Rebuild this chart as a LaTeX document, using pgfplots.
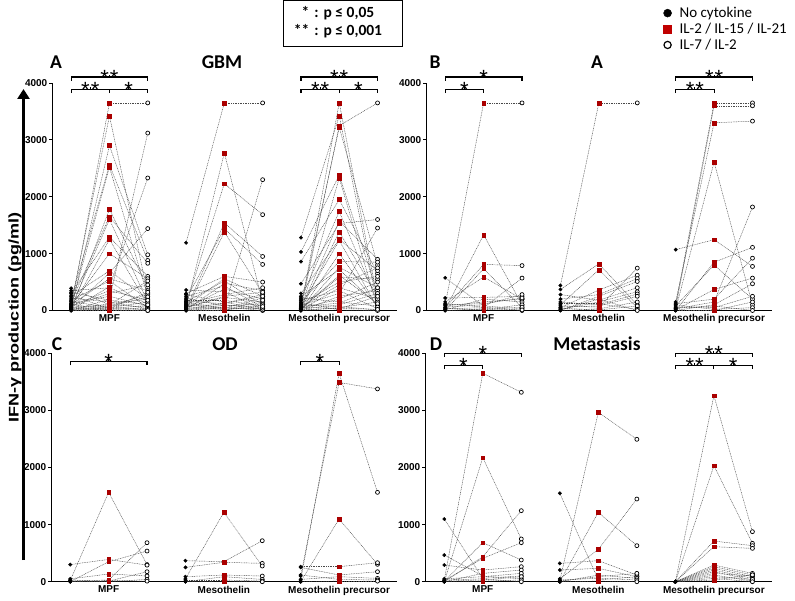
\documentclass[border=0pt]{standalone}
\usepackage{pgfplots}
\pgfplotsset{compat=1.18}
\usepackage{pgfplotstable}
\usetikzlibrary{arrows.meta}
\usepackage{fontspec}
\setmainfont{Liberation Sans}
\newfontfamily\carl{Carlito}

\definecolor{ilred}{HTML}{C00000}
\definecolor{ptred}{HTML}{AA0000}
\definecolor{linkgray}{HTML}{484848}

% columns: a = no cytokine, b = IL-2/IL-15/IL-21, c = IL-7/IL-2 (pg/ml), one row per patient
% --- GBM ---
\pgfplotstableread{
a b c
50 3650 3650
120 3420 300
30 2900 980
200 2560 880
80 2520 250
10 1780 400
150 1650 830
60 1600 150
300 1290 600
20 1250 100
90 1000 560
250 700 200
40 660 1440
100 560 350
180 520 50
10 420 2330
350 400 120
70 300 450
130 250 80
0 200 3120
220 150 30
20 120 200
390 100 60
50 80 280
0 60 10
160 50 150
30 40 320
270 30 90
5 20 40
110 10 0
60 100 520
0 30 20
320 180 100
15 70 240
0 0 0
80 350 180
}\tAmpf
\pgfplotstableread{
a b c
1190 3650 3650
50 2770 150
100 2230 1685
20 1540 950
200 1440 810
0 1380 300
300 600 500
80 560 250
150 520 100
10 480 350
250 430 60
40 380 200
360 330 20
120 280 400
0 50 2300
60 230 150
180 180 80
30 130 280
90 100 30
220 80 120
15 60 0
140 40 220
70 20 50
0 10 100
280 150 10
50 250 320
110 30 40
0 0 180
20 90 70
160 120 250
}\tAmes
\pgfplotstableread{
a b c
50 3650 200
1280 3420 100
20 3250 3650
100 3220 800
1030 2380 300
0 2330 50
860 1950 650
200 1740 150
40 1570 900
470 1530 1600
10 1380 250
300 1250 700
80 1230 50
150 860 850
0 760 400
250 720 100
30 590 550
120 500 600
60 450 750
10 400 200
180 350 30
90 300 1450
0 250 350
40 200 500
220 150 80
20 100 300
100 70 10
0 50 150
60 30 250
140 10 0
30 620 120
0 1000 60
70 130 400
10 40 20
}\tAprec
% --- A ---
\pgfplotstableread{
a b c
100 3650 3650
20 1330 100
50 810 790
0 735 50
150 590 200
575 80 30
220 230 250
10 200 150
60 100 280
30 50 570
0 20 100
120 60 0
80 150 200
40 10 60
0 30 10
100 120 220
}\tBmpf
\pgfplotstableread{
a b c
440 3650 3650
370 820 100
100 715 50
50 360 620
200 280 560
0 250 510
280 180 400
20 150 330
150 100 290
80 60 745
0 30 150
40 10 80
120 120 20
10 200 0
60 80 250
}\tBmes
\pgfplotstableread{
a b c
100 3650 3650
50 3600 3600
150 3300 3330
20 2610 100
1070 1245 775
0 850 1110
80 800 200
10 370 570
120 200 920
30 150 1820
0 100 470
60 50 250
100 20 50
0 0 150
40 80 0
}\tBprec
% --- OD ---
\pgfplotstableread{
a b c
20 1565 300
300 390 290
0 350 537
50 135 100
10 30 683
0 10 175
30 0 40
0 20 10
}\tCmpf
\pgfplotstableread{
a b c
368 350 718
251 340 321
50 1215 275
88 117 99
0 88 40
30 30 10
0 10 0
}\tCmes
\pgfplotstableread{
a b c
30 3650 1565
100 3490 3376
0 1098 304
263 263 333
251 117 175
40 88 58
117 40 30
0 10 10
}\tCprec
% --- Metastasis ---
\pgfplotstableread{
a b c
30 3650 3317
0 2172 748
10 683 380
0 438 1244
20 409 683
1098 60 100
467 100 50
292 204 263
0 146 204
50 88 146
10 30 88
0 10 30
30 50 0
}\tDmpf
\pgfplotstableread{
a b c
20 2967 2494
1548 30 88
0 1215 631
50 566 1448
321 368 117
204 234 88
0 117 58
30 60 30
10 88 146
0 10 0
}\tDmes
\pgfplotstableread{
a b c
0 3259 876
0 2032 672
0 712 631
0 613 584
0 292 146
0 263 117
0 234 88
0 204 58
0 175 30
0 146 100
0 117 10
0 88 40
0 58 0
0 30 120
}\tDprec

\pgfplotsset{
  link/.style={linkgray, line width=0.45pt, dash pattern=on 0.9pt off 0.8pt},
  nocyt/.style={only marks, mark=*, mark size=1.7pt, black},
  il2/.style={only marks, mark=square*, mark size=1.9pt, ptred, mark options={fill=ptred}},
  il7/.style={only marks, mark=*, mark size=2pt, black, mark options={fill=white, line width=0.7pt}},
  panel/.style={
    scale only axis, anchor=south west,
    xmin=-0.5, xmax=8.5, ymin=0, ymax=4000,
    axis x line=bottom, axis y line=left,
    axis line style={-, line width=0.8pt},
    xtick={1,4,7}, xticklabels={MPF,Mesothelin,Mesothelin precursor},
    x tick style={draw=none},
    ytick={0,1000,2000,3000,4000},
    y tick style={line width=0.8pt, black},
    major tick length=3pt, tick align=outside,
    tick label style={font=\bfseries\fontsize{10}{10}\selectfont},
    /pgf/number format/assume math mode=true,
    /pgf/number format/1000 sep={},
    scaled y ticks=false, clip=false,
    xticklabel style={inner sep=1pt},
    yticklabel style={inner sep=1.5pt},
  },
}

% one group of three columns starting at x = #2
\newcommand{\grp}[2]{%
  \addplot[link, forget plot, quiver={u=1, v=\thisrow{b}-\thisrow{a}}] table[x expr=#2, y=a] {#1};
  \addplot[link, forget plot, quiver={u=1, v=\thisrow{c}-\thisrow{b}}] table[x expr=#2+1, y=b] {#1};
  \addplot[nocyt, forget plot] table[x expr=#2, y=a] {#1};
  \addplot[il2, forget plot] table[x expr=#2+1, y=b] {#1};
  \addplot[il7, forget plot] table[x expr=#2+2, y=c] {#1};
}
% significance bracket: from, to, label x, height, label
\newcommand{\brk}[5]{%
  \draw[line width=1.1pt] ([yshift=-3.5pt]axis cs:#1,#4) -- (axis cs:#1,#4) -- (axis cs:#2,#4) -- ([yshift=-3.5pt]axis cs:#2,#4);
  \draw[line width=1.1pt] (axis cs:#3,#4) -- ([yshift=2.5pt]axis cs:#3,#4);
  \node[anchor=base, inner sep=0pt, font=\fontsize{22}{22}\selectfont] at ([yshift=-8pt]axis cs:#3,#4) {#5};
}

\begin{document}
\begin{tikzpicture}[x=1pt, y=1pt]
\path[use as bounding box] (0,0) rectangle (795,600);

\begin{axis}[panel, at={(52pt,289.5pt)}, width=344.7pt, height=227.5pt]
\grp{\tAmpf}{0}
\grp{\tAmes}{3}
\grp{\tAprec}{6}
\brk{0}{2}{1}{4105}{*\hspace{1pt}*}
\brk{0}{1}{0.5}{3885}{*\hspace{1pt}*}
\brk{1}{2}{1.5}{3885}{*}
\brk{6}{8}{7}{4105}{*\hspace{1pt}*}
\brk{6}{7}{6.5}{3885}{*\hspace{1pt}*}
\brk{7}{8}{7.5}{3885}{*}
\end{axis}

\begin{axis}[panel, at={(426pt,289.5pt)}, width=345.7pt, height=227.5pt,
  legend style={at={(rel axis cs:1.05,1.343)}, anchor=north east, draw=none, fill=none,
    font=\carl\fontsize{15}{15}\selectfont, inner sep=0pt, row sep=0pt,
    /tikz/every odd column/.append style={column sep=6pt}},
  legend cell align=left,
  legend image code/.code={\draw[#1] plot coordinates {(0pt,0pt)};}]
\grp{\tBmpf}{0}
\grp{\tBmes}{3}
\grp{\tBprec}{6}
\brk{0}{2}{1}{4105}{*}
\brk{0}{1}{0.5}{3885}{*}
\brk{6}{8}{7}{4105}{*\hspace{1pt}*}
\brk{6}{7}{6.5}{3885}{*\hspace{1pt}*}
\addlegendimage{only marks, mark=*, mark size=4pt, black}
\addlegendentry{No cytokine}
\addlegendimage{only marks, mark=square*, mark size=4pt, ilred}
\addlegendentry{IL-2 / IL-15 / IL-21}
\addlegendimage{only marks, mark=*, mark size=3.6pt, black, mark options={fill=white, line width=1.2pt}}
\addlegendentry{IL-7 / IL-2}
\end{axis}

\begin{axis}[panel, at={(51pt,18.3pt)}, width=345.7pt, height=228.4pt]
\grp{\tCmpf}{0}
\grp{\tCmes}{3}
\grp{\tCprec}{6}
\brk{0}{2}{1}{3852}{*}
\brk{6}{7}{6.5}{3852}{*}
\end{axis}

\begin{axis}[panel, at={(425pt,18.3pt)}, width=346.7pt, height=228.4pt]
\grp{\tDmpf}{0}
\grp{\tDmes}{3}
\grp{\tDprec}{6}
\brk{0}{2}{1}{4000}{*}
\brk{0}{1}{0.5}{3782}{*}
\brk{6}{8}{7}{4000}{*\hspace{1pt}*}
\brk{6}{7}{6.5}{3782}{*\hspace{1pt}*}
\brk{7}{8}{7.5}{3782}{*}
\end{axis}

% panel letters and titles
\begin{scope}[every node/.style={font=\carl\bfseries\fontsize{19.5}{20}\selectfont, inner sep=0pt}]
\node at (56,538) {A};
\node at (222,538) {GBM};
\node at (435,538) {B};
\node at (597,538) {A};
\node at (57,256) {C};
\node at (225,256) {OD};
\node at (436,256) {D};
\node at (597,256) {Metastasis};
\end{scope}

% common y label with arrow
\node[rotate=90, anchor=base, xscale=1.29, font=\bfseries\fontsize{14}{15}\selectfont, inner sep=0pt] at (18.5,282.5) {IFN-γ production (pg/ml)};
\draw[line width=2.8pt, -{Triangle[width=12pt,length=10pt]}] (23.5,40) -- (23.5,511);

% significance key
\draw[line width=0.8pt] (283.4,554) rectangle (402.6,599.6);
\node[font=\carl\bfseries\fontsize{15.5}{18}\selectfont, inner sep=0pt] at (338,577)
  {\begin{tabular}{@{}r@{\hspace{5pt}}c@{\hspace{5pt}}l@{}}*&:&p ≤ 0,05\\\relax **&:&p ≤ 0,001\end{tabular}};
\end{tikzpicture}
\end{document}
